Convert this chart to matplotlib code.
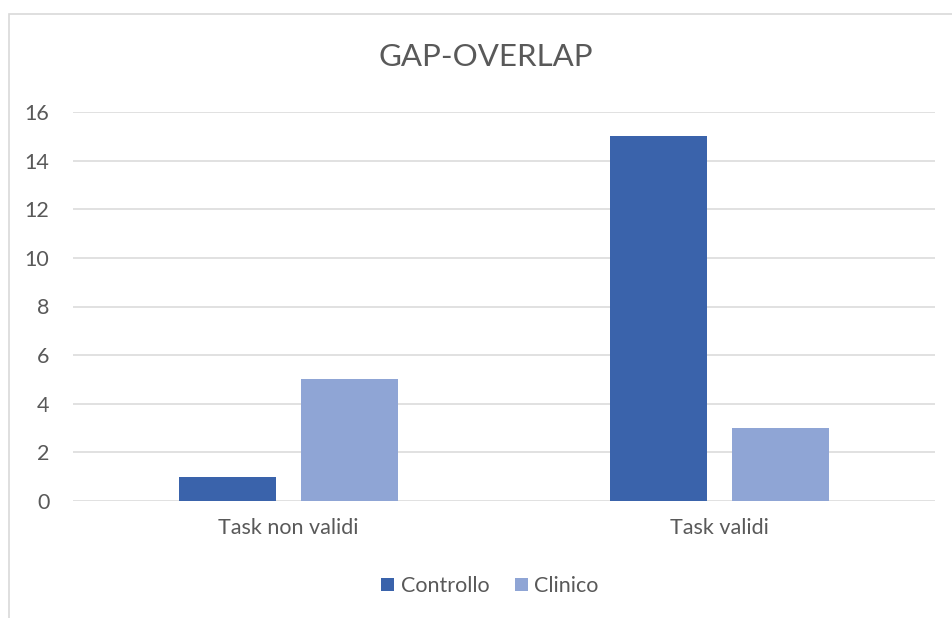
import numpy as np
import matplotlib.pyplot as plt
from matplotlib.patches import Rectangle

categories = ["Task non validi", "Task validi"]
controllo = [1, 15]
clinico = [5, 3]
series_names = ["Controllo", "Clinico"]
y_ticks = [0, 2, 4, 6, 8, 10, 12, 14, 16]

col_controllo = "#3A63AB"
col_clinico = "#8FA5D5"
text_col = "#595959"
grid_col = "#D9D9D9"

plt.rcParams['font.family'] = ['Lato', 'DejaVu Sans']

fig = plt.figure(figsize=(9.52, 6.18), dpi=100)
ax = fig.add_axes([73/952, 1-501/618, (935-73)/952, (501-112)/618])

x = np.arange(len(categories))
w = 0.223
off = w/2 + 0.03
ax.bar(x - off, controllo, w, color=col_controllo, label=series_names[0], zorder=3)
ax.bar(x + off, clinico, w, color=col_clinico, label=series_names[1], zorder=3)

ax.set_xlim(-0.5, len(categories) - 0.5)
ax.set_ylim(0, 16)
ax.set_yticks(y_ticks)
ax.set_xticks(x)
ax.set_xticklabels(categories)
ax.tick_params(axis='both', length=0, colors=text_col, labelsize=15.5)
ax.tick_params(axis='y', pad=17)
ax.tick_params(axis='x', pad=12)
ax.grid(axis='y', color=grid_col, linewidth=1.1, zorder=0)
for s in ax.spines.values():
    s.set_visible(False)

# chart frame
fig.patches.append(Rectangle((8.5/952, -0.1), 1.2, 1 - 13.5/618 + 0.1,
                             transform=fig.transFigure, fill=False,
                             edgecolor=grid_col, linewidth=1.2))

fig.text(486/952, 1-57/618, "GAP-OVERLAP", ha='center', va='center',
         fontsize=22.5, color=text_col)

leg = fig.legend(loc='center', bbox_to_anchor=(490/952, 1-586/618), ncol=2,
                 frameon=False, fontsize=15.5, handlelength=0.6, handleheight=0.6,
                 handletextpad=0.3, columnspacing=1.2)
for t in leg.get_texts():
    t.set_color(text_col)

fig.savefig("out.png", dpi=100)
